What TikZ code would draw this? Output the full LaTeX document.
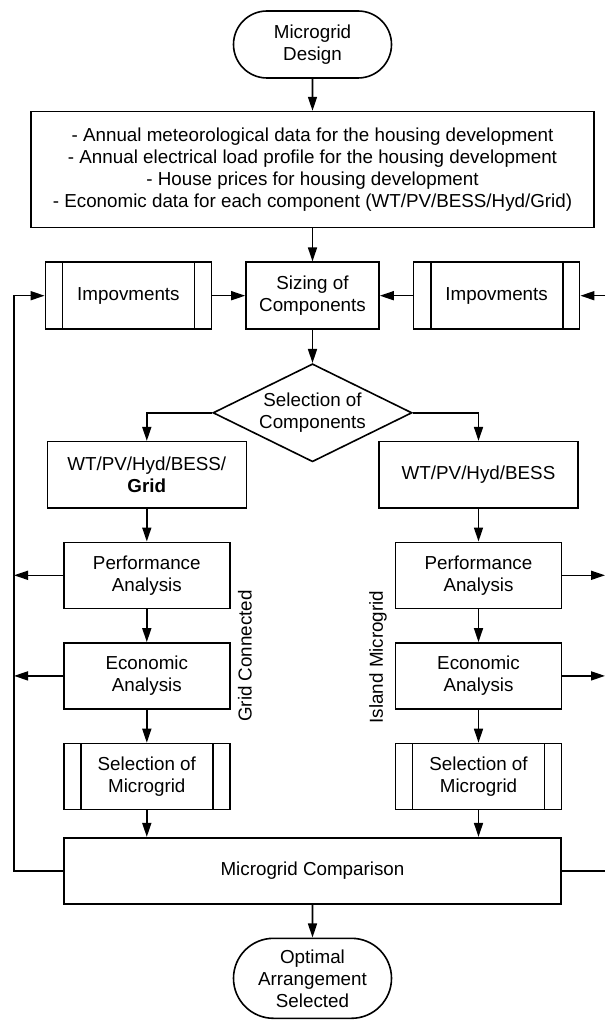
\documentclass[tikz,border=0pt]{standalone}
\usepackage{fontspec}
\setmainfont{Liberation Sans}
\usetikzlibrary{shapes,arrows.meta,positioning}
\tikzset{
  basenode/.style = {align=center, inner sep=2pt, draw=black, text=black,
    font=\fontsize{9.4pt}{11pt}\selectfont},
  termnode/.style = {basenode, rounded rectangle, minimum width=83pt,
    minimum height=33.5pt},% start / end
  procnode/.style = {basenode, rectangle, minimum width=83pt,
    minimum height=33pt},% process step
  subproc/.style = {procnode, path picture={
      \draw[line width=0.9pt] ([xshift=8.5pt]path picture bounding box.north west)
        -- ([xshift=8.5pt]path picture bounding box.south west);
      \draw[line width=0.9pt] ([xshift=-8.5pt]path picture bounding box.north east)
        -- ([xshift=-8.5pt]path picture bounding box.south east);}},% predefined process
  decnode/.style = {basenode, diamond, aspect=2, inner sep=0pt,
    minimum width=99.5pt, minimum height=49pt},% decision
  sidelabel/.style = {rotate=90, inner sep=0pt,
    font=\fontsize{9.4pt}{11pt}\selectfont}% branch name
}

\begin{document}
\begin{tikzpicture}[>={Triangle[length=7pt,width=4.5pt]}, line width=0.8pt]
        \useasboundingbox (0,0) rectangle (302.5pt,-510pt);

        \node [termnode](start) at (156.25pt,-22.25pt){Microgrid\\Design};
        \node [procnode, minimum width=281.5pt, minimum height=58pt, below= 16pt of start](data){%
          - Annual meteorological data for the housing development\\
          - Annual electrical load profile for the housing development\\
          - House prices for housing development\\
          - Economic data for each component (WT/PV/BESS/Hyd/Grid)};
        \node [procnode, minimum width=66.5pt, minimum height=33.5pt, below= 16.5pt of data](size){Sizing of\\Components};
        \node [subproc, minimum height=33.5pt, left= 16.5pt of size](impl){Impovments};
        \node [subproc, minimum height=33.5pt, right= 16.5pt of size](impr){Impovments};
        \node [decnode, below= 16.5pt of size](sel){Selection of\\Components};

        \node [procnode, minimum width=99.5pt](wtl) at (73.4pt,-237.35pt){WT/PV/Hyd/BESS/\\\textbf{Grid}};
        \node [procnode, below= 16.5pt of wtl](perfl){Performance\\Analysis};
        \node [procnode, below= 16.5pt of perfl](econl){Economic\\Analysis};
        \node [subproc, below= 16.5pt of econl](sell){Selection of\\Microgrid};

        \node [procnode, minimum width=99.5pt](wtr) at (239.25pt,-237.35pt){WT/PV/Hyd/BESS};
        \node [procnode, below= 16.5pt of wtr](perfr){Performance\\Analysis};
        \node [procnode, below= 16.5pt of perfr](econr){Economic\\Analysis};
        \node [subproc, below= 16.5pt of econr](selr){Selection of\\Microgrid};

        \node [procnode, minimum width=248.5pt](comp) at (156.25pt,-435.35pt){Microgrid Comparison};
        \node [termnode, minimum height=40pt, below= 16.5pt of comp](finish){Optimal\\Arrangement\\Selected};

        \node [sidelabel](gridlab) at (122.5pt,-328pt){Grid Connected};
        \node [sidelabel](islandlab) at (189pt,-328.5pt){Island Microgrid};

        \coordinate (lbus) at (7pt,0);
        \coordinate (rbus) at (302.5pt,0);

        \draw [->] (start) -- (data);
        \draw [->] (data) -- (size);
        \draw [->] (impl) -- (size);
        \draw [->] (impr) -- (size);
        \draw [->] (size) -- (sel);
        \draw [->] (sel.west) -| (wtl);
        \draw [->] (sel.east) -| (wtr);

        \draw [->] (wtl) -- (perfl);
        \draw [->] (perfl) -- (econl);
        \draw [->] (econl) -- (sell);
        \draw [->] (sell) -- (sell |- comp.north);
        \draw [->] (wtr) -- (perfr);
        \draw [->] (perfr) -- (econr);
        \draw [->] (econr) -- (selr);
        \draw [->] (selr) -- (selr |- comp.north);
        \draw [->] (comp) -- (finish);

        \draw [->] (perfl.west) -- (perfl.west -| lbus);
        \draw [->] (econl.west) -- (econl.west -| lbus);
        \draw [->] (comp.west) -- (comp.west -| lbus) |- (impl.west);
        \draw [->] (perfr.east) -- (perfr.east -| rbus);
        \draw [->] (econr.east) -- (econr.east -| rbus);
        \draw (comp.east) -- (comp.east -| rbus);
        \draw [->] (impr.east -| rbus) -- (impr.east);

        \end{tikzpicture}
\end{document}
